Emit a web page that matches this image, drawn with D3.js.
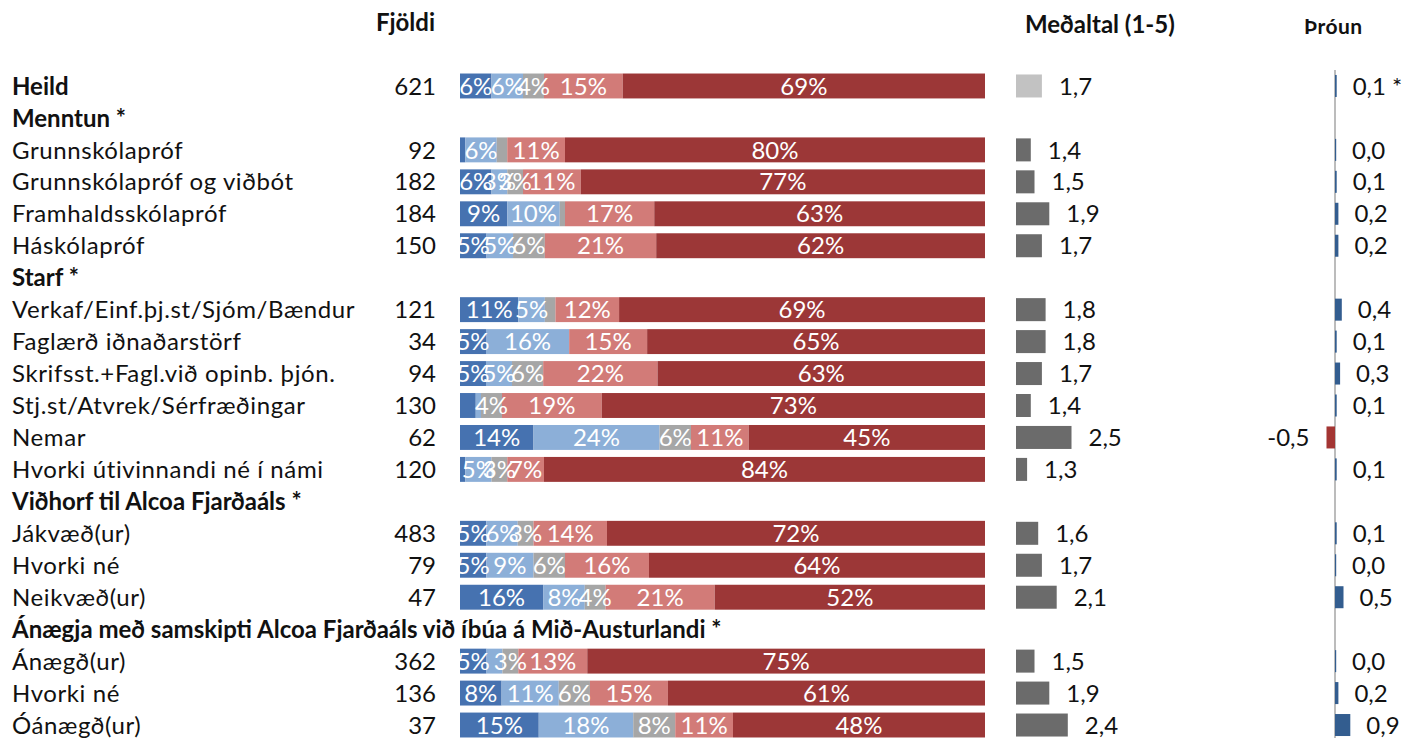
<!DOCTYPE html>
<html>
<head>
<meta charset="utf-8">
<script src="https://cdn.jsdelivr.net/npm/d3@7"></script>
<style>
  html, body { margin: 0; padding: 0; background: #fff; }
  svg { display: block; }
  text { font-family: "Lato", "Open Sans", sans-serif; }
</style>
</head>
<body>
<svg id="chart" width="1411" height="738"></svg>
<script>
// ---------- data ----------
const rowLabels = [
  "Heild", "Menntun *", "Grunnskólapróf", "Grunnskólapróf og viðbót", "Framhaldsskólapróf",
  "Háskólapróf", "Starf *", "Verkaf/Einf.þj.st/Sjóm/Bændur", "Faglærð iðnaðarstörf",
  "Skrifsst.+Fagl.við opinb. þjón.", "Stj.st/Atvrek/Sérfræðingar", "Nemar",
  "Hvorki útivinnandi né í námi", "Viðhorf til Alcoa Fjarðaáls *", "Jákvæð(ur)", "Hvorki né",
  "Neikvæð(ur)", "Ánægja með samskipti Alcoa Fjarðaáls við íbúa á Mið-Austurlandi *",
  "Ánægð(ur)", "Hvorki né", "Óánægð(ur)"
];
const boldRows = [0, 1, 6, 13, 17];
const counts = [621, null, 92, 182, 184, 150, null, 121, 34, 94, 130, 62, 120, null, 483, 79, 47, null, 362, 136, 37];
// five stacked series (percent)
const series1 = [6, null, 1, 6, 9, 5, null, 11, 5, 5, 3, 14, 1, null, 5, 5, 16, null, 5, 8, 15];
const series2 = [6, null, 6, 3, 10, 5, null, 5, 16, 5, 1, 24, 5, null, 6, 9, 8, null, 3, 11, 18];
const series3 = [4, null, 2, 3, 1, 6, null, 2, 0, 6, 4, 6, 3, null, 3, 6, 4, null, 3, 6, 8];
const series4 = [15, null, 11, 11, 17, 21, null, 12, 15, 22, 19, 11, 7, null, 14, 16, 21, null, 13, 15, 11];
const series5 = [69, null, 80, 77, 63, 62, null, 69, 65, 63, 73, 45, 84, null, 72, 64, 52, null, 75, 61, 48];
const hiddenLabels = [[10, 0], [18, 1]]; // [row, series] labels not shown
const means = [1.7, null, 1.4, 1.5, 1.9, 1.7, null, 1.8, 1.8, 1.7, 1.4, 2.5, 1.3, null, 1.6, 1.7, 2.1, null, 1.5, 1.9, 2.4];
const trends = [0.1, null, 0.0, 0.1, 0.2, 0.2, null, 0.4, 0.1, 0.3, 0.1, -0.5, 0.1, null, 0.1, 0.0, 0.5, null, 0.0, 0.2, 0.9];
const trendMarks = ["*", "", "", "", "", "", "", "", "", "", "", "", "", "", "", "", "", "", "", "", ""];
const headers = ["Fjöldi", "Meðaltal (1-5)", "Þróun"];

const seriesColors = ["#4672b0", "#8cafd8", "#a6a6a6", "#d27b78", "#9c3737"];
const allSeries = [series1, series2, series3, series4, series5];

// ---------- layout ----------
const svg = d3.select("#chart");
const fs = 24;
const ls = 0.6;
const y = d3.scaleBand().domain(d3.range(rowLabels.length)).range([70, 741]).paddingInner(0.22).paddingOuter(0.11);
const yc = i => y(i) + y.bandwidth() / 2;
const xStack = d3.scaleLinear().domain([0, 1]).range([460, 985]);
const xMean = d3.scaleLinear().domain([1, 5]).range([1016, 1164]);
const xTrend = d3.scaleLinear().domain([-1, 1]).range([1318, 1352]);
const fmt = v => d3.format(".1f")(v).replace(".", ",").replace("−", "-");

// headers
svg.append("text").attr("x", 435).attr("y", 31).attr("text-anchor", "end")
  .attr("font-weight", "bold").attr("font-size", fs).attr("fill", "#111").text(headers[0]);
svg.append("text").attr("x", 1025).attr("y", 33)
  .attr("font-weight", "bold").attr("font-size", fs).attr("fill", "#111").text(headers[1]);
svg.append("text").attr("x", 1304).attr("y", 34)
  .attr("font-weight", "bold").attr("font-size", 21).attr("letter-spacing", 0.5).attr("fill", "#111").text(headers[2]);

// row labels
svg.selectAll("text.row").data(rowLabels).join("text")
  .attr("class", "row")
  .attr("x", 12).attr("y", (d, i) => yc(i)).attr("dy", "0.36em")
  .attr("font-size", fs)
  .attr("font-weight", (d, i) => boldRows.includes(i) ? "bold" : "normal")
  .attr("letter-spacing", (d, i) => boldRows.includes(i) ? 0 : ls)
  .attr("fill", "#111").text(d => d);

// counts
svg.selectAll("text.count").data(counts.map((c, i) => ({c, i})).filter(d => d.c != null)).join("text")
  .attr("class", "count")
  .attr("x", 436).attr("y", d => yc(d.i)).attr("dy", "0.36em")
  .attr("text-anchor", "end").attr("font-size", fs).attr("fill", "#111").text(d => d.c);

// stacked bars
const stackRows = d3.range(rowLabels.length).filter(i => series1[i] != null);
const segs = [];
stackRows.forEach(i => {
  const vals = allSeries.map(s => s[i]);
  const total = d3.sum(vals);
  let acc = 0;
  vals.forEach((v, k) => {
    const x0 = xStack(acc / total);
    acc += v;
    const x1 = xStack(acc / total);
    segs.push({i, k, v, x0, x1, hidden: hiddenLabels.some(h => h[0] === i && h[1] === k)});
  });
});
svg.append("g").selectAll("rect").data(segs.filter(s => s.v > 0)).join("rect")
  .attr("x", s => s.x0).attr("y", s => y(s.i)).attr("width", s => s.x1 - s.x0).attr("height", y.bandwidth())
  .attr("fill", s => seriesColors[s.k]);
svg.append("g").selectAll("text").data(segs.filter(s => s.v >= 3 && !s.hidden)).join("text")
  .attr("x", s => (s.x0 + s.x1) / 2).attr("y", s => yc(s.i)).attr("dy", "0.36em")
  .attr("text-anchor", "middle").attr("font-size", fs).attr("fill", "#fff").text(s => s.v + "%");

// mean bars
const meanRows = d3.range(rowLabels.length).filter(i => means[i] != null);
svg.selectAll("rect.mean").data(meanRows).join("rect")
  .attr("class", "mean")
  .attr("x", xMean(1)).attr("y", i => yc(i) - 11.5)
  .attr("width", i => xMean(means[i]) - xMean(1)).attr("height", 23)
  .attr("fill", i => i === 0 ? "#c2c2c2" : "#6b6b6b");
svg.selectAll("text.mean").data(meanRows).join("text")
  .attr("class", "mean")
  .attr("x", i => xMean(means[i]) + 17).attr("y", i => yc(i)).attr("dy", "0.36em")
  .attr("font-size", fs).attr("fill", "#111").text(i => fmt(means[i]));

// trend bars
svg.append("line").attr("x1", xTrend(0)).attr("x2", xTrend(0)).attr("y1", 70).attr("y2", 738)
  .attr("stroke", "#a6a6a6").attr("stroke-width", 1.5);
const trendRows = d3.range(rowLabels.length).filter(i => trends[i] != null);
svg.selectAll("rect.trend").data(trendRows).join("rect")
  .attr("class", "trend")
  .attr("x", i => Math.min(xTrend(0), xTrend(trends[i])))
  .attr("y", i => yc(i) - 11)
  .attr("width", i => Math.max(Math.abs(xTrend(trends[i]) - xTrend(0)), 1.2))
  .attr("height", 22)
  .attr("fill", i => trends[i] < 0 ? "#a33533" : "#335d8f");
svg.selectAll("text.trend").data(trendRows).join("text")
  .attr("class", "trend")
  .attr("x", i => trends[i] < 0 ? xTrend(trends[i]) - 17 : Math.max(xTrend(trends[i]), xTrend(0) + 1) + 16)
  .attr("y", i => yc(i)).attr("dy", "0.36em")
  .attr("text-anchor", i => trends[i] < 0 ? "end" : "start")
  .attr("font-size", fs).attr("fill", "#111")
  .text(i => fmt(trends[i]) + (trendMarks[i] ? " " + trendMarks[i] : ""));
</script>
</body>
</html>
